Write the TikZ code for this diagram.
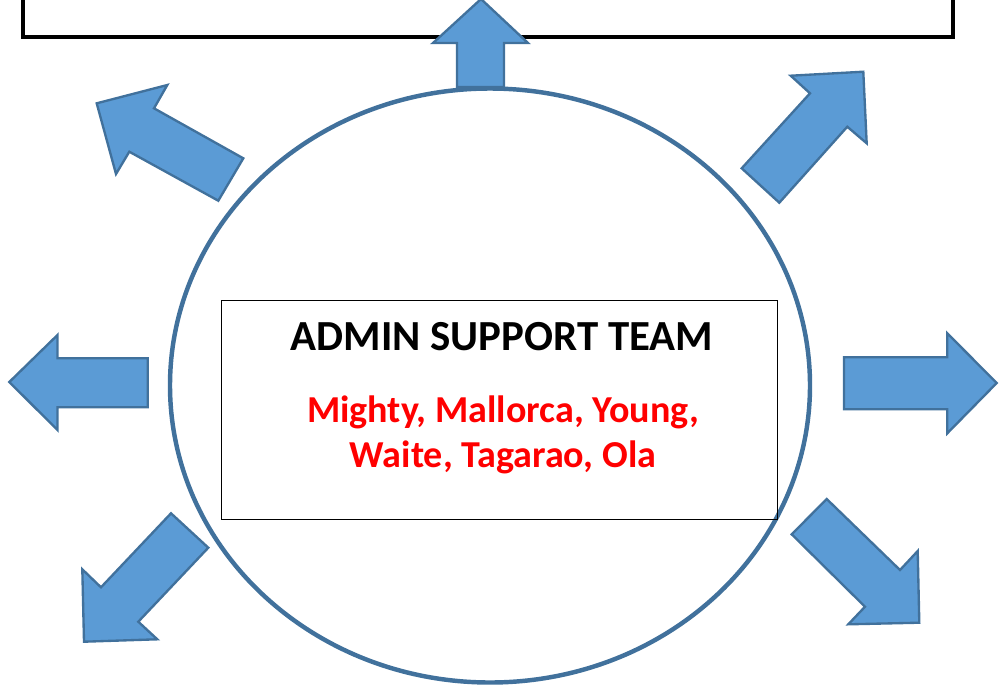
\documentclass[tikz,border=0pt]{standalone}
\usepackage{fontspec}
\setmainfont{Carlito}
\definecolor{ArrowFill}{HTML}{5B9BD5}
\definecolor{ArrowLine}{HTML}{41719C}
\tikzset{
    block arrow/.style={draw=ArrowLine, fill=ArrowFill, line width=2pt, line join=miter},
    team ring/.style={draw=ArrowLine, line width=3.8pt},
    team box/.style={draw=black, line width=0.8pt, rectangle, inner sep=0pt,
        minimum width=16.68cm, minimum height=6.57cm},
    team title/.style={font=\bfseries\fontsize{36.6}{43}\selectfont},
    team names/.style={font=\bfseries\fontsize{32.5}{38.4}\selectfont, text=red, align=center}
}

\begin{document}
\begin{tikzpicture}[x=0.03cm, y=-0.03cm]
\useasboundingbox (0,0) rectangle (1003,686);
\clip (0,0) rectangle (1003,686);

% frame running off the top edge
\draw[line width=2.6pt] (23,-20) rectangle (953,37);

% the ring round the team
\draw[team ring] (490,385.5) ellipse [x radius=320, y radius=297];

% arrows pointing out of the ring
% up
\draw[block arrow] (481,-1) -- (528,43) -- (504,43) -- (504,87)
    -- (457,87) -- (457,43) -- (433,43) -- cycle;
% up left
\draw[block arrow] (96.7,103.3) -- (167.3,85) -- (154,108.3) -- (243.3,158.3)
    -- (218.3,200.7) -- (129.3,151.7) -- (116,174) -- cycle;
% up right
\draw[block arrow] (863.3,71.7) -- (866.7,143.3) -- (847.3,126.7) -- (779.3,202.7)
    -- (741.7,168.3) -- (810,93.3) -- (790.7,75.7) -- cycle;
% left
\draw[block arrow] (9.3,382) -- (57.5,335) -- (57.5,358.3) -- (147.7,358.3)
    -- (147.7,407.3) -- (57.5,407.3) -- (57.5,430) -- cycle;
% right
\draw[block arrow] (844,357.3) -- (947.3,357.3) -- (947.3,333.3) -- (996.7,383)
    -- (947.3,433.3) -- (947.3,409.3) -- (844,409.3) -- cycle;
% down left
\draw[block arrow] (171,513.3) -- (208.3,547.7) -- (138.3,621.7) -- (157.3,639.3)
    -- (84,641.7) -- (82.3,569.3) -- (101,587.3) -- cycle;
% down right
\draw[block arrow] (826.7,499) -- (900,570) -- (917.7,551) -- (919.3,622.7)
    -- (848.3,624.3) -- (865,606.7) -- (791.7,534.3) -- cycle;

% team box and its text (base of a two-line node is its last line)
\node[team box] (teambox) at (499,409.5) {};
\node[team title, anchor=base] (title) at (502,350) {ADMIN SUPPORT TEAM};
\node[team names, anchor=base] (names) at (503,467) {Mighty, Mallorca, Young,\\Waite, Tagarao, Ola};

\end{tikzpicture}
\end{document}
